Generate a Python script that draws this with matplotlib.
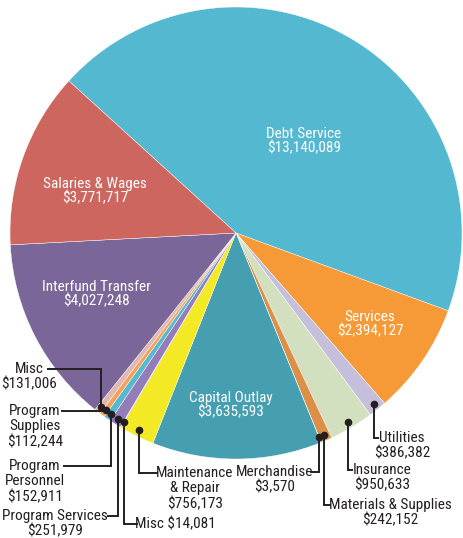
import matplotlib
matplotlib.use("Agg")
import matplotlib.pyplot as plt
from matplotlib import font_manager
import numpy as np

# ---------------------------------------------------------------- data
categories = ["Debt Service", "Services", "Utilities", "Insurance",
              "Materials & Supplies", "Merchandise", "Capital Outlay",
              "Maintenance & Repair", "Misc", "Program Services",
              "Program Personnel", "Program Supplies", "Misc",
              "Interfund Transfer", "Salaries & Wages"]
amounts = [13140089, 2394127, 386382, 950633, 242152, 3570, 3635593,
           756173, 14081, 251979, 152911, 112244, 131006, 4027248, 3771717]
colors = ["#55b8d1", "#f69a38", "#c6bfdb", "#d3e0bf", "#dc8f47", "#c98a50",
          "#469fb1", "#f3e925", "#8e7ab5", "#937cb8", "#56b9d1", "#f4a258",
          "#e1b7b1", "#7b6699", "#cd665f"]

# label text shown inside the big wedges: index -> (x, y) in picture pixels
inside = {0: (304, 141), 1: (370, 324), 6: (231, 405), 13: (96, 294), 14: (95, 191)}

# outside labels: index -> (text, corner x, corner y, text centre x)
# leader goes vertically from the wedge dot to corner y, then across to corner x
outside = {
    2: ("Utilities\n$386,382", 378, 438, 402),
    3: ("Insurance\n$950,633", 352, 470, 382),
    4: ("Materials & Supplies\n$242,152", 330, 505, 390),
    5: ("Merchandise\n$3,570", 311, 472, 275),
    7: ("Maintenance\n& Repair\n$756,173", 157, 473, 195),
    8: ("Misc $14,081", 137, 524, 175),
    9: ("Program Services\n$251,979", 108, 516, 55),
    10: ("Program\nPersonnel\n$152,911", 64, 466, 35),
    11: ("Program\nSupplies\n$112,244", 62, 411, 35),
    12: ("Misc\n$131,006", 48, 369, 29),
}

W, H = 463, 538
CX, CY, R = 236, 233, 226
START = 137.7
FS = 11


def pick_font(names):
    have = {f.name for f in font_manager.fontManager.ttflist}
    for n in names:
        if n in have:
            return n
    return "DejaVu Sans"


FONT = pick_font(["Liberation Sans Narrow", "Roboto Condensed", "Open Sans", "DejaVu Sans"])
plt.rcParams["font.family"] = [FONT, "DejaVu Sans"]

fig = plt.figure(figsize=(W / 100, H / 100), dpi=100)
ax = fig.add_axes([0, 0, 1, 1])


def py(y):
    return H - y


wedges, _ = ax.pie(amounts, colors=colors, startangle=START, counterclock=False,
                   center=(CX, py(CY)), radius=R, frame=True,
                   wedgeprops=dict(edgecolor="white", linewidth=0.3))
ax.set_xlim(0, W)
ax.set_ylim(0, H)
ax.set_aspect("equal")
ax.axis("off")

for i, (x, y) in inside.items():
    ax.text(x, py(y), f"{categories[i]}\n${amounts[i]:,}", color="white",
            fontsize=FS, ha="center", va="center", linespacing=1.06)

ink = "#231f20"
for i, (txt, cx, cy, tx) in outside.items():
    w = wedges[i]
    mid = np.deg2rad((w.theta1 + w.theta2) / 2)
    dx = CX + 0.973 * R * np.cos(mid)
    dy = py(CY) + 0.973 * R * np.sin(mid)
    ax.plot([dx, dx, cx], [dy, py(cy), py(cy)], color=ink, lw=1.4,
            solid_joinstyle="miter", zorder=5)
    ax.plot([dx], [dy], "o", color=ink, ms=4.5, zorder=6)
    ax.text(tx, py(cy - 7), txt, color=ink, fontsize=FS, ha="center", va="top",
            multialignment="center", linespacing=1.12)

fig.savefig("out.png", dpi=100, facecolor="white")
